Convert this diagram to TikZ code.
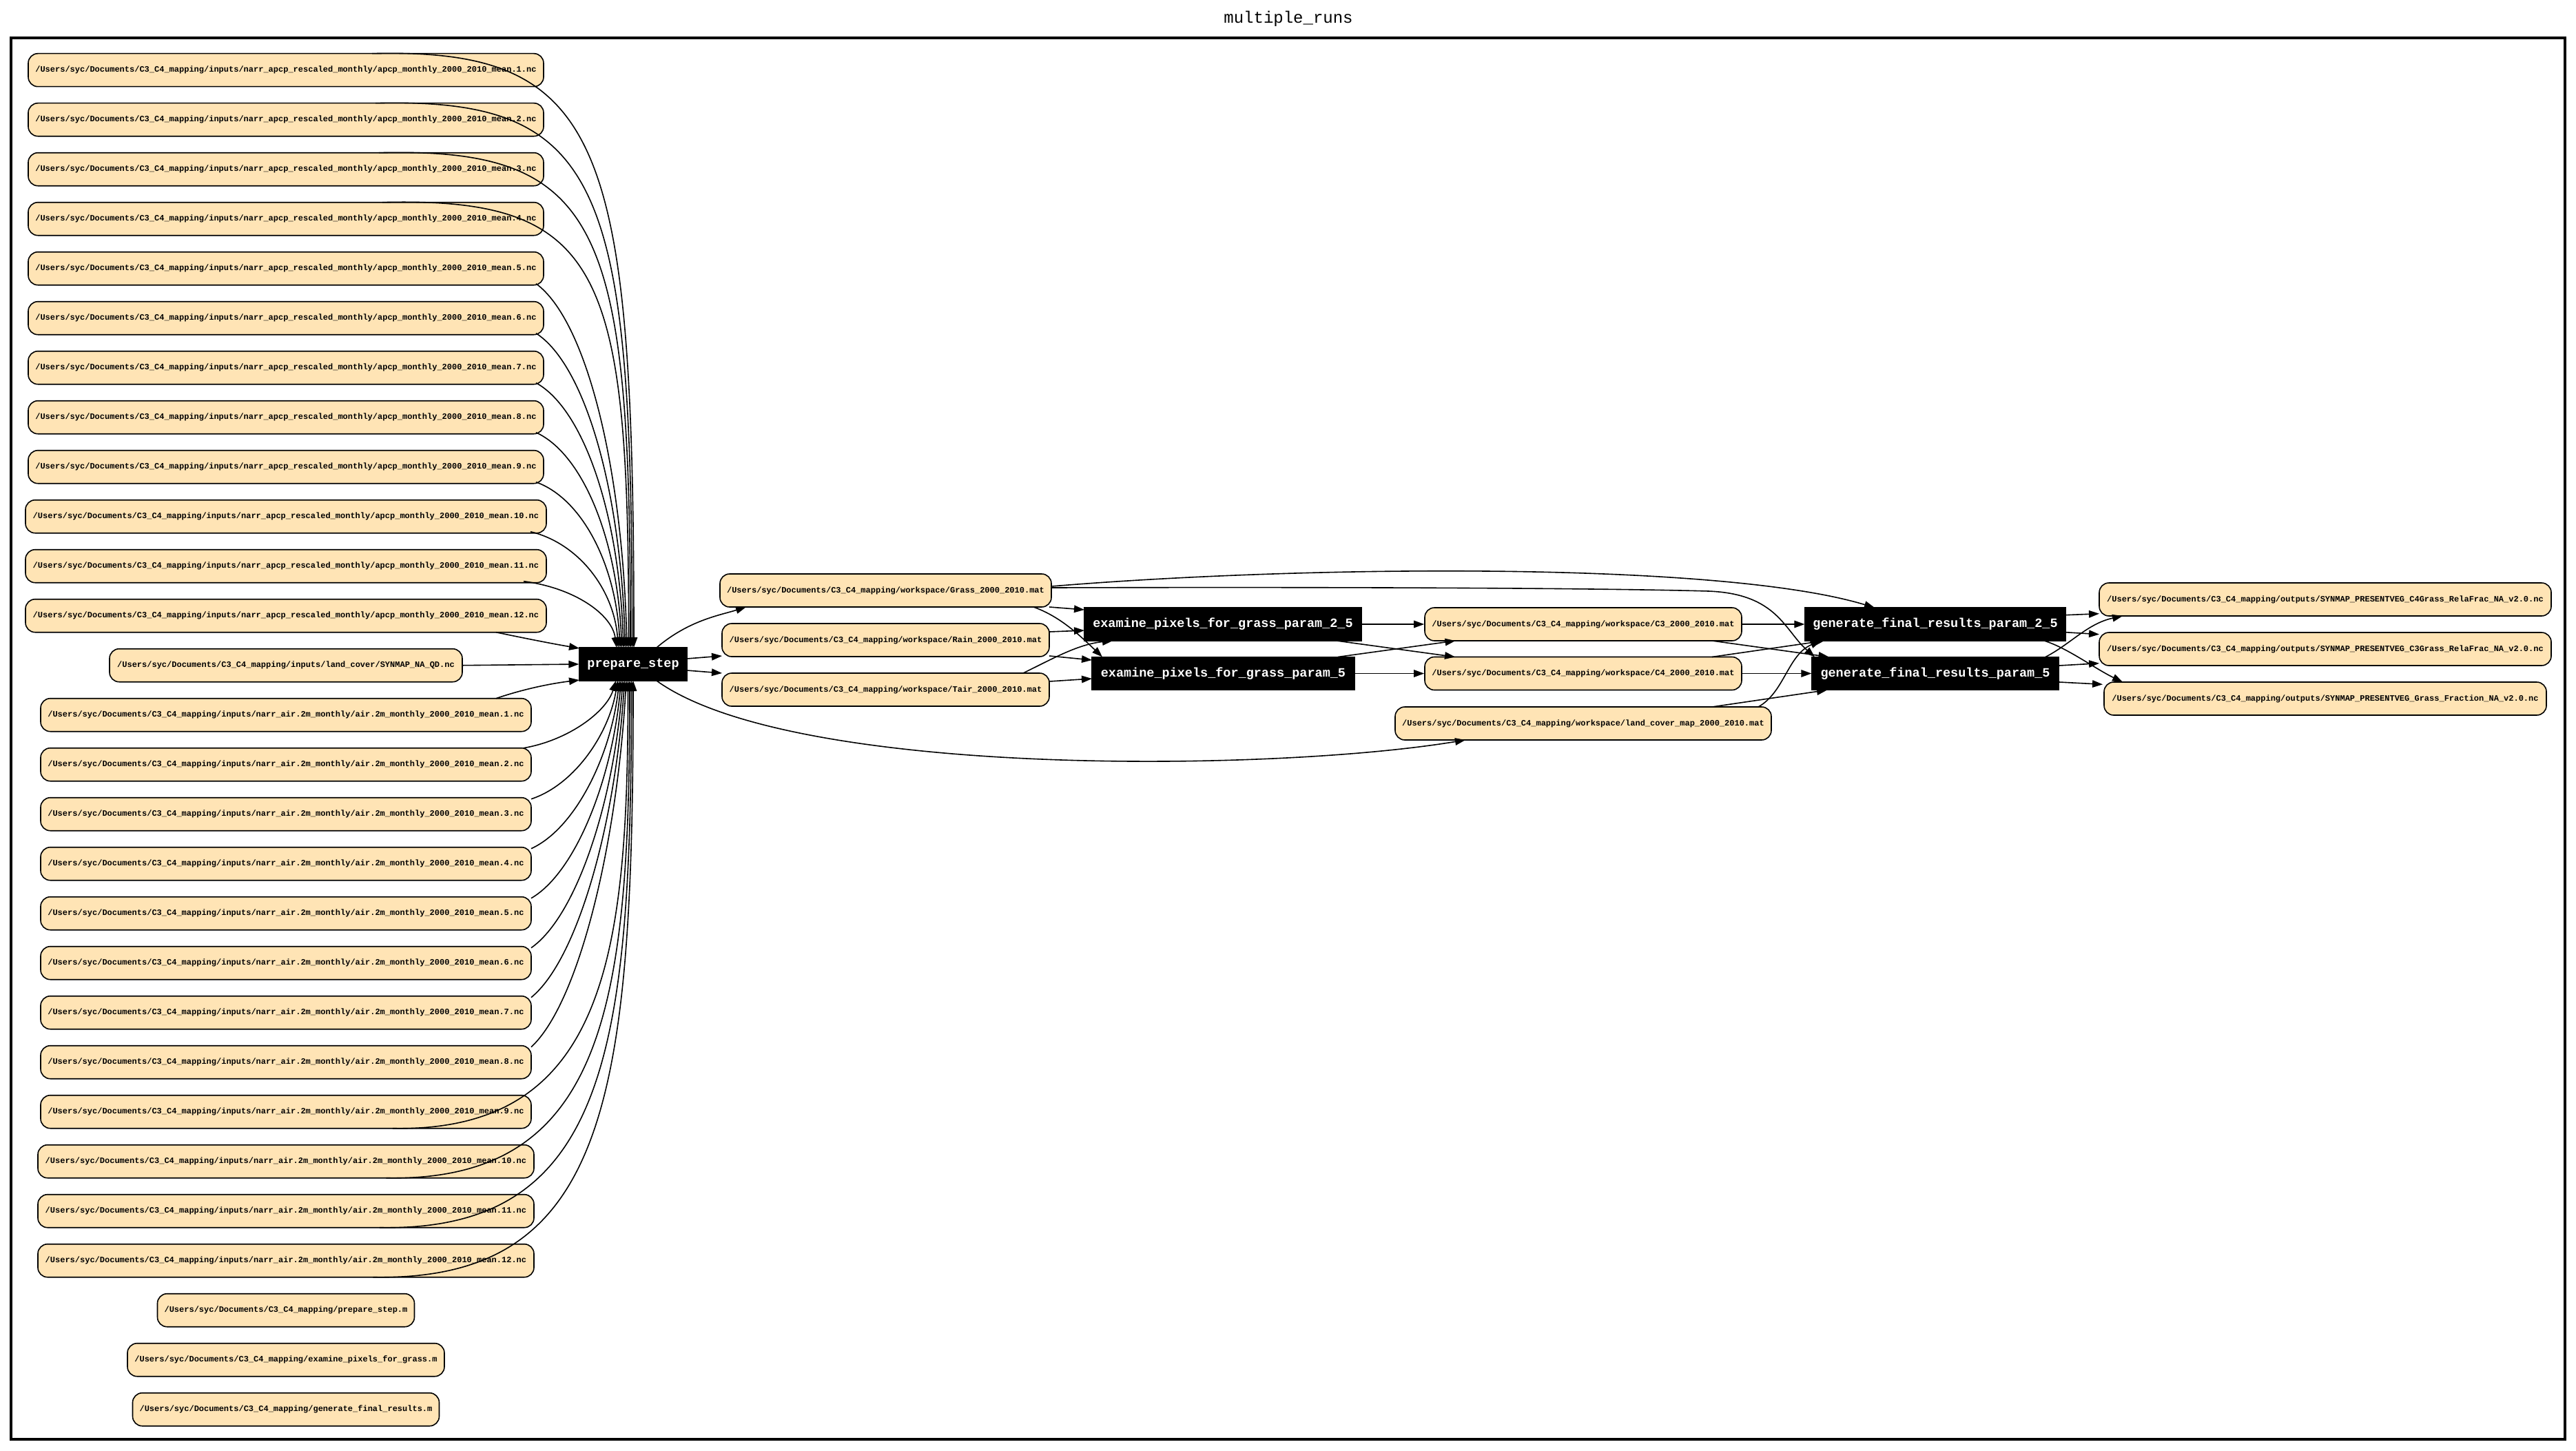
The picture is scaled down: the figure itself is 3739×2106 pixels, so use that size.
\documentclass[tikz,border=0pt]{standalone}
\usepackage{fontspec}
\newfontfamily\monofont{Liberation Mono}
\usetikzlibrary{arrows.meta}
\newcommand\pfx{/Users/syc/Documents/C3\_C4\_mapping/}
\begin{document}
\begin{tikzpicture}[x=1pt,y=-1pt,
  filebox/.style={draw=black, line width=1.6pt, fill={rgb,255:red,255;green,228;blue,181},
    rounded corners=14pt, minimum height=48pt, inner sep=0pt, align=center,
    font=\monofont\bfseries\fontsize{12}{14}\selectfont},
  procbox/.style={draw=black, line width=1.2pt, fill=black, text=white,
    minimum height=48pt, inner sep=0pt,
    font=\monofont\bfseries\fontsize{18.5}{20}\selectfont},
  conn/.style={draw=black, line width=1.6pt, -{Triangle[length=15pt,width=10.5pt]}},
  frame/.style={draw=black, line width=3.5pt}
]
\useasboundingbox (0,0) rectangle (3739,2106);
\node[font=\monofont\fontsize{24}{26}\selectfont] (title) at (1870,27) {multiple\_runs};
\draw[frame] (16,55) rectangle (3723,2089);

% ---------- left column ----------
\foreach \k in {1,...,12}{
  \pgfmathsetmacro\yy{101.7+72*(\k-1)}
  \pgfmathsetmacro\ww{\k>9 ? 756 : 748}
  \node[filebox, minimum width=\ww pt] (a\k) at (415,\yy)
    {\pfx inputs/narr\_apcp\_rescaled\_monthly/apcp\_monthly\_2000\_2010\_mean.\k.nc};
}
\node[filebox, minimum width=512pt] (lc) at (415,965.7)
  {\pfx inputs/land\_cover/SYNMAP\_NA\_QD.nc};
\foreach \j in {1,...,12}{
  \pgfmathsetmacro\yy{101.7+72*(12+\j)}
  \pgfmathsetmacro\ww{\j>9 ? 720 : 712}
  \node[filebox, minimum width=\ww pt] (t\j) at (415,\yy)
    {\pfx inputs/narr\_air.2m\_monthly/air.2m\_monthly\_2000\_2010\_mean.\j.nc};
}
\node[filebox, minimum width=373pt] (pm) at (415,1901.7) {\pfx prepare\_step.m};
\node[filebox, minimum width=460pt] (em) at (415,1973.7) {\pfx examine\_pixels\_for\_grass.m};
\node[filebox, minimum width=445pt] (gm) at (415,2045.7) {\pfx generate\_final\_results.m};

% ---------- middle ----------
\node[procbox, minimum width=156pt] (prep) at (919,964) {prepare\_step};
\node[filebox, minimum width=481pt] (grass) at (1285.5,857) {\pfx workspace/Grass\_2000\_2010.mat};
\node[filebox, minimum width=475pt] (rain) at (1285.5,929) {\pfx workspace/Rain\_2000\_2010.mat};
\node[filebox, minimum width=475pt] (tair) at (1285.5,1001) {\pfx workspace/Tair\_2000\_2010.mat};
\node[procbox, minimum width=402pt] (ex25) at (1775,906) {examine\_pixels\_for\_grass\_param\_2\_5};
\node[procbox, minimum width=381pt] (ex5) at (1775.5,977.5) {examine\_pixels\_for\_grass\_param\_5};
\node[filebox, minimum width=460pt] (c3) at (2298,906) {\pfx workspace/C3\_2000\_2010.mat};
\node[filebox, minimum width=460pt] (c4) at (2298,977.5) {\pfx workspace/C4\_2000\_2010.mat};
\node[filebox, minimum width=546pt] (lcm) at (2298,1050) {\pfx workspace/land\_cover\_map\_2000\_2010.mat};
\node[procbox, minimum width=378pt] (gen25) at (2809,906) {generate\_final\_results\_param\_2\_5};
\node[procbox, minimum width=358pt] (gen5) at (2809,977.5) {generate\_final\_results\_param\_5};
\node[filebox, minimum width=656pt] (o4) at (3375,870) {\pfx outputs/SYNMAP\_PRESENTVEG\_C4Grass\_RelaFrac\_NA\_v2.0.nc};
\node[filebox, minimum width=656pt] (o3) at (3375,942) {\pfx outputs/SYNMAP\_PRESENTVEG\_C3Grass\_RelaFrac\_NA\_v2.0.nc};
\node[filebox, minimum width=642pt] (of) at (3375,1014) {\pfx outputs/SYNMAP\_PRESENTVEG\_Grass\_Fraction\_NA\_v2.0.nc};

% ---------- edges into prepare_step ----------
\foreach \k in {1,...,4}{
  \pgfmathsetmacro\yc{101.7+72*(\k-1)}
  \pgfmathsetmacro\sx{540+5*(\k-1)-415}
  \pgfmathsetmacro\ex{920-2.5*(\k-1)}
  \pgfmathsetmacro\cy{\yc-32}
  \pgfmathsetmacro\dy{\yc+0.12*(940-\yc)}
  \pgfmathsetmacro\exs{\ex-919}
  \draw[conn] ([shift={(\sx,-24)}]a\k.center) .. controls (875,\cy) and (\ex,\dy) .. ([shift={(\exs,-24)}]prep.center);
}
\foreach \k in {5,...,11}{
  \pgfmathsetmacro\yc{101.7+72*(\k-1)}
  \pgfmathsetmacro\sxa{\k<10 ? 778 : (\k==10 ? 770 : 760)}
  \pgfmathsetmacro\sya{\yc+22}
  \pgfmathsetmacro\ex{920-2.5*(\k-1)}
  \pgfmathsetmacro\pax{\sxa+0.55*(\ex-\sxa)}
  \pgfmathsetmacro\pay{\sya+0.1*(940-\sya)}
  \pgfmathsetmacro\pbx{\ex-0.05*(\ex-\sxa)}
  \pgfmathsetmacro\pby{\sya+0.5*(940-\sya)}
  \pgfmathsetmacro\sxs{\sxa-415}
  \pgfmathsetmacro\exs{\ex-919}
  \draw[conn] ([shift={(\sxs,22)}]a\k.center) .. controls (\pax,\pay) and (\pbx,\pby) .. ([shift={(\exs,-24)}]prep.center);
}
\draw[conn] ([shift={(305,24)}]a12.center) .. controls (760,926) and (800,934) .. ([shift={(-78,-23)}]prep.center);
\draw[conn] (lc.east) -- (prep.west);
\draw[conn] ([shift={(305,-24)}]t1.center) .. controls (760,1000) and (800,992) .. ([shift={(-78,23)}]prep.center);
\foreach \j in {2,...,8}{
  \pgfmathsetmacro\yc{101.7+72*(12+\j)}
  \pgfmathsetmacro\sxa{\j==2 ? 760 : 771}
  \pgfmathsetmacro\sdy{\j==2 ? -24 : -22}
  \pgfmathsetmacro\sya{\yc+\sdy}
  \pgfmathsetmacro\ex{889+2.5*\j}
  \pgfmathsetmacro\pax{\sxa+0.5*(\ex-\sxa)}
  \pgfmathsetmacro\pay{\sya-0.12*(\sya-988)}
  \pgfmathsetmacro\pbx{\ex-0.1*(\ex-\sxa)}
  \pgfmathsetmacro\pby{\sya-0.55*(\sya-988)}
  \pgfmathsetmacro\sxs{\sxa-415}
  \pgfmathsetmacro\exs{\ex-919}
  \draw[conn] ([shift={(\sxs,\sdy)}]t\j.center) .. controls (\pax,\pay) and (\pbx,\pby) .. ([shift={(\exs,24)}]prep.center);
}
\foreach \j in {9,...,12}{
  \pgfmathsetmacro\yc{101.7+72*(12+\j)}
  \pgfmathsetmacro\sxa{570-9.5*(\j-9)}
  \pgfmathsetmacro\ex{889+2.5*\j}
  \pgfmathsetmacro\pay{\yc+30}
  \pgfmathsetmacro\pby{\yc-230}
  \pgfmathsetmacro\sxs{\sxa-415}
  \pgfmathsetmacro\exs{\ex-919}
  \draw[conn] ([shift={(\sxs,24)}]t\j.center) .. controls (880,\pay) and (\ex,\pby) .. ([shift={(\exs,24)}]prep.center);
}

% ---------- prepare_step outputs ----------
\draw[conn] ([shift={(34,-24)}]prep.center) .. controls (1000,900) and (1045,893) .. ([shift={(-202.5,24)}]grass.center);
\draw[conn] ([shift={(78,-8)}]prep.center) -- ([shift={(-237.5,23)}]rain.center);
\draw[conn] ([shift={(78,9)}]prep.center) -- ([shift={(-237.5,-24)}]tair.center);
\draw[conn] ([shift={(34,24)}]prep.center) .. controls (1150,1130) and (1850,1120) .. ([shift={(-171,24)}]lcm.center);

% ---------- workspace to examine ----------
\draw[conn] ([shift={(240.5,-6)}]grass.center) .. controls (1900,820) and (2500,815) .. ([shift={(-88,-24)}]gen25.center);
\draw[conn] ([shift={(240.5,-4)}]grass.center) .. controls (1900,852) and (2300,853) .. (2480,858) .. controls (2580,862) and (2590,915) .. ([shift={(-175,-24)}]gen5.center);
\draw[conn] ([shift={(237.5,24)}]grass.center) -- ([shift={(-201,-21)}]ex25.center);
\draw[conn] ([shift={(214.5,24)}]grass.center) .. controls (1540,895) and (1570,925) .. ([shift={(-175.5,-24)}]ex5.center);
\draw[conn] ([shift={(237.5,-12)}]rain.center) -- ([shift={(-201,9)}]ex25.center);
\draw[conn] ([shift={(237.5,23)}]rain.center) -- ([shift={(-190.5,-19.5)}]ex5.center);
\draw[conn] ([shift={(199.5,-24)}]tair.center) .. controls (1530,955) and (1565,935) .. ([shift={(-160,24)}]ex25.center);
\draw[conn] ([shift={(237.5,-12)}]tair.center) -- ([shift={(-190.5,7.5)}]ex5.center);

% ---------- examine to C3/C4 ----------
\draw[conn] (ex25.east) -- (c3.west);
\draw[conn] ([shift={(165,24)}]ex25.center) -- ([shift={(-186,-24)}]c4.center);
\draw[conn] ([shift={(166.5,-24)}]ex5.center) -- ([shift={(-185.5,24)}]c3.center);
\draw[conn] (ex5.east) -- (c4.west);

% ---------- to generate ----------
\draw[conn] (c3.east) -- (gen25.west);
\draw[conn] ([shift={(187,24)}]c3.center) -- ([shift={(-154.5,-24)}]gen5.center);
\draw[conn] ([shift={(187,-24)}]c4.center) -- ([shift={(-161,24)}]gen25.center);
\draw[conn] (c4.east) -- (gen5.west);
\draw[conn] ([shift={(187,-24)}]lcm.center) -- ([shift={(-157,24)}]gen5.center);
\draw[conn] ([shift={(254,-24)}]lcm.center) .. controls (2590,1005) and (2595,950) .. ([shift={(-166,24)}]gen25.center);

% ---------- generate to outputs ----------
\draw[conn] ([shift={(189,-13.3)}]gen25.center) -- ([shift={(-328,20.7)}]o4.center);
\draw[conn] ([shift={(189,11.7)}]gen25.center) -- ([shift={(-328,-21.3)}]o3.center);
\draw[conn] ([shift={(158,24)}]gen25.center) .. controls (3000,940) and (3040,970) .. ([shift={(-294,-24)}]of.center);
\draw[conn] ([shift={(160,-24)}]gen5.center) .. controls (3005,935) and (3030,905) .. ([shift={(-294,24)}]o4.center);
\draw[conn] ([shift={(180,-11.5)}]gen5.center) -- ([shift={(-328,20.7)}]o3.center);
\draw[conn] ([shift={(180,12.5)}]gen5.center) -- ([shift={(-323,-20.7)}]of.center);
\end{tikzpicture}
\end{document}
